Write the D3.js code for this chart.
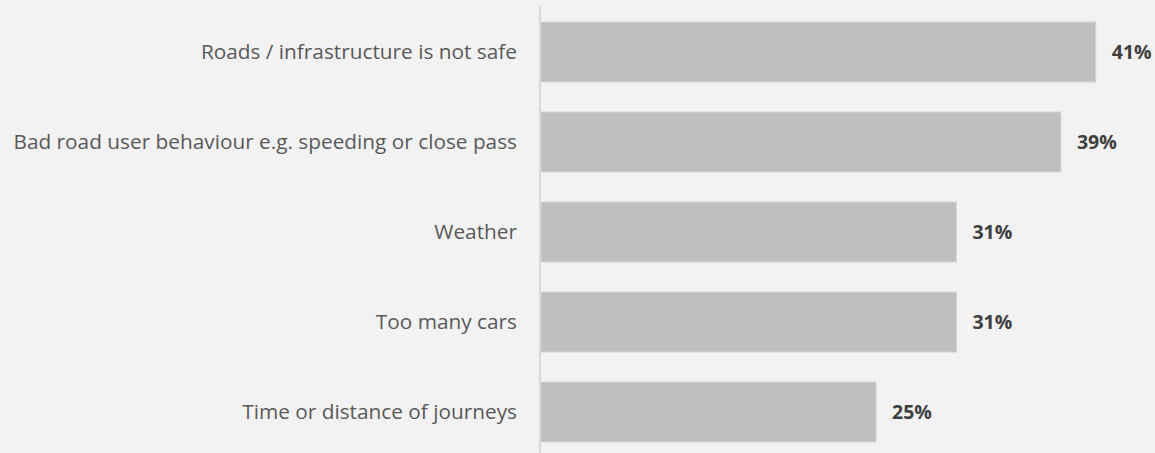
<!DOCTYPE html>
<html>
<head>
<meta charset="utf-8">
<script src="https://cdn.jsdelivr.net/npm/d3@7"></script>
<style>
  html, body { margin: 0; padding: 0; background: #f2f2f2; }
  svg { display: block; }
</style>
</head>
<body>
<svg></svg>
<script>
//*
//* Data
//*

var categories = [
	"Roads / infrastructure is not safe",
	"Bad road user behaviour e.g. speeding or close pass",
	"Weather",
	"Too many cars",
	"Time or distance of journeys"
];
var values = [41.4, 38.8, 31.0, 31.0, 25.0];
var valueLabels = ["41%", "39%", "31%", "31%", "25%"];

//*
//* Chart
//*

var width = 1155, height = 453;
var axisX = 540;

var svg = d3.select("svg")
	.attr("width", width)
	.attr("height", height);

svg.append("rect")
	.attr("width", width)
	.attr("height", height)
	.attr("fill", "#f2f2f2");

var x = d3.scaleLinear()
	.domain([0, 10])
	.range([axisX + 1, axisX + 1 + 134]);

var y = d3.scaleBand()
	.domain(categories)
	.range([7, 457])
	.paddingInner(1 / 3)
	.paddingOuter(1 / 6);

var rows = categories.map(function(c, i) {
	return { cat: c, val: values[i], label: valueLabels[i] };
});

/* bars */
svg.selectAll("rect.bar")
	.data(rows)
	.enter()
	.append("rect")
	.attr("class", "bar")
	.attr("x", x(0))
	.attr("y", function(d) { return y(d.cat); })
	.attr("width", function(d) { return x(d.val) - x(0); })
	.attr("height", y.bandwidth())
	.attr("fill", "#bfbfbf")
	.attr("stroke", "#d3d3d3")
	.attr("stroke-width", 1);

/* axis line */
svg.append("line")
	.attr("x1", axisX)
	.attr("x2", axisX)
	.attr("y1", 7)
	.attr("y2", height)
	.attr("stroke", "#d9d9d9")
	.attr("stroke-width", 2);

/* category labels */
svg.selectAll("text.cat")
	.data(rows)
	.enter()
	.append("text")
	.attr("class", "cat")
	.attr("x", axisX - 23)
	.attr("y", function(d) { return y(d.cat) + y.bandwidth() / 2; })
	.attr("dy", "0.35em")
	.attr("text-anchor", "end")
	.attr("font-family", "'Open Sans', sans-serif")
	.attr("font-size", 20.8)
	.attr("fill", "#595959")
	.text(function(d) { return d.cat; });

/* value labels */
svg.selectAll("text.val")
	.data(rows)
	.enter()
	.append("text")
	.attr("class", "val")
	.attr("x", function(d) { return x(d.val) + 16; })
	.attr("y", function(d) { return y(d.cat) + y.bandwidth() / 2; })
	.attr("dy", "0.35em")
	.attr("font-family", "'Open Sans', sans-serif")
	.attr("font-weight", "bold")
	.attr("font-size", 19.5)
	.attr("fill", "#404040")
	.text(function(d) { return d.label; });
</script>
</body>
</html>
